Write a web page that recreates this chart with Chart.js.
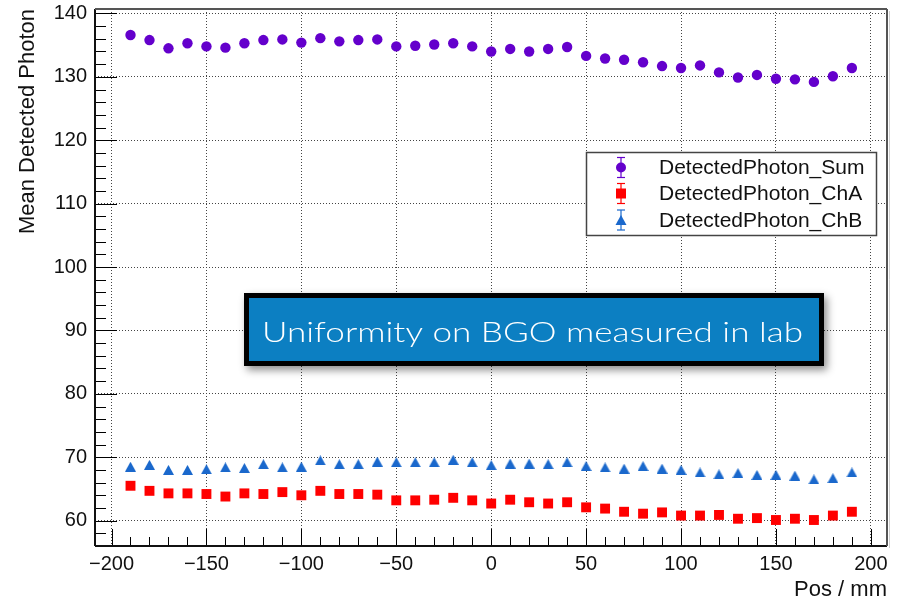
<!DOCTYPE html>
<html><head><meta charset="utf-8">
<script src="https://cdn.jsdelivr.net/npm/chart.js@4.4.1/dist/chart.umd.min.js"></script>
<style>html,body{margin:0;padding:0;background:#fff;}canvas{display:block;}</style>
</head><body>
<canvas id="c" width="901" height="603"></canvas>
<script>
const positions = [-190,-180,-170,-160,-150,-140,-130,-120,-110,-100,-90,-80,-70,-60,-50,-40,-30,-20,-10,0,10,20,30,40,50,60,70,80,90,100,110,120,130,140,150,160,170,180,190];
const sumValues = [136.6,135.8,134.5,135.3,134.8,134.6,135.3,135.8,135.9,135.4,136.1,135.6,135.8,135.9,134.8,134.9,135.1,135.3,134.8,134.0,134.4,134.0,134.4,134.7,133.3,132.9,132.7,132.3,131.7,131.4,131.8,130.7,129.9,130.3,129.7,129.6,129.2,130.1,131.4];
const chAValues = [65.5,64.7,64.3,64.3,64.2,63.8,64.3,64.2,64.5,64.0,64.7,64.2,64.2,64.1,63.2,63.2,63.3,63.6,63.2,62.7,63.3,62.9,62.7,62.9,62.1,61.9,61.4,61.1,61.3,60.8,60.8,60.9,60.3,60.4,60.1,60.3,60.1,60.8,61.4];
const chBValues = [68.5,68.8,68.0,68.0,68.1,68.4,68.3,68.9,68.4,68.5,69.5,68.9,68.9,69.3,69.2,69.2,69.2,69.6,69.2,68.75,69.0,69.0,68.9,69.2,68.6,68.4,68.2,68.6,68.2,68.0,67.6,67.3,67.5,67.2,67.2,67.1,66.5,66.7,67.6];
const xTickValues = [-200,-150,-100,-50,0,50,100,150,200];
const yTickValues = [60,70,80,90,100,110,120,130,140];
const seriesLabels = ['DetectedPhoton_Sum','DetectedPhoton_ChA','DetectedPhoton_ChB'];
const seriesColors = ['#6400cc','#ff0000','#1a68cc'];
const annotationText = 'Uniformity on BGO measured in lab';
const xTitle = 'Pos / mm';
const yTitle = 'Mean Detected Photon';

const FONT = "'Liberation Sans', Arial, Helvetica, sans-serif";

function triangleMarker(w, h, color) {
  const c = document.createElement('canvas');
  c.width = w; c.height = h;
  const g = c.getContext('2d');
  g.fillStyle = color;
  g.beginPath(); g.moveTo(w / 2, 0); g.lineTo(w, h); g.lineTo(0, h); g.closePath(); g.fill();
  return c;
}
const triImg = triangleMarker(11, 10, seriesColors[2]);

function pts(vals) { return positions.map((p, i) => ({x: p, y: vals[i]})); }

function line(ctx, x1, y1, x2, y2) { ctx.beginPath(); ctx.moveTo(x1, y1); ctx.lineTo(x2, y2); ctx.stroke(); }

function drawMarker(ctx, i, cx, cy) {
  ctx.fillStyle = seriesColors[i];
  if (i === 0) { ctx.beginPath(); ctx.arc(cx, cy, 5, 0, Math.PI * 2); ctx.fill(); }
  else if (i === 1) { ctx.fillRect(cx - 5, cy - 5, 10, 10); }
  else { ctx.beginPath(); ctx.moveTo(cx, cy - 5); ctx.lineTo(cx + 5.5, cy + 5); ctx.lineTo(cx - 5.5, cy + 5); ctx.closePath(); ctx.fill(); }
}

function noPad(s) { s.paddingTop = 0; s.paddingBottom = 0; s.paddingLeft = 0; s.paddingRight = 0; }

const decor = {
  id: 'decor',
  afterDatasetsDraw(chart) {
    const {ctx, chartArea: a, scales: {x, y}} = chart;
    ctx.save();
    // inner ticks
    ctx.strokeStyle = '#000'; ctx.lineWidth = 1;
    for (let v = -200; v <= 200; v += 10) {
      const px = Math.round(x.getPixelForValue(v)) + 0.5;
      const len = (v % 50 === 0) ? 17 : 9;
      line(ctx, px, a.bottom, px, a.bottom - len);
    }
    for (let v = 56; v <= 140; v += 2) {
      const py = Math.round(y.getPixelForValue(v)) + 0.5;
      const len = (v % 10 === 0) ? 22 : 11;
      line(ctx, a.left, py, a.left + len, py);
    }
    // frame
    ctx.strokeStyle = '#cfcfcf'; ctx.lineWidth = 1;
    line(ctx, a.right + 2.5, a.top + 2, a.right + 2.5, a.bottom + 2);
    ctx.strokeStyle = '#111'; ctx.lineWidth = 2;
    line(ctx, a.left, a.bottom, a.right, a.bottom);
    line(ctx, a.left, a.top, a.left, a.bottom);
    ctx.strokeStyle = '#555';
    line(ctx, a.left, a.top, a.right, a.top);
    line(ctx, a.right, a.top, a.right, a.bottom);

    // legend
    const lx = 586, ly = 152, lw = 290, lh = 83;
    ctx.fillStyle = '#fff'; ctx.fillRect(lx, ly, lw, lh);
    ctx.strokeStyle = '#444'; ctx.lineWidth = 1.5; ctx.strokeRect(lx + 0.5, ly + 0.5, lw, lh);
    const rows = [167.5, 193.5, 220];
    ctx.font = '21px ' + FONT; ctx.textBaseline = 'middle'; ctx.textAlign = 'left';
    for (let i = 0; i < 3; i++) {
      const cx = 621, cy = rows[i];
      ctx.strokeStyle = seriesColors[i]; ctx.lineWidth = 1.2;
      line(ctx, cx, cy - 10, cx, cy + 10);
      line(ctx, cx - 4, cy - 10, cx + 4, cy - 10);
      line(ctx, cx - 4, cy + 10, cx + 4, cy + 10);
      drawMarker(ctx, i, cx, cy);
      ctx.fillStyle = '#111';
      ctx.fillText(chart.data.datasets[i].label, 659, cy + 1);
    }

    // annotation box
    const bx = 244, by = 293, bw = 580, bh = 73;
    ctx.save();
    ctx.shadowColor = 'rgba(0,0,0,0.45)'; ctx.shadowBlur = 8; ctx.shadowOffsetX = 3; ctx.shadowOffsetY = 4;
    ctx.fillStyle = '#000'; ctx.fillRect(bx, by, bw, bh);
    ctx.restore();
    ctx.fillStyle = '#0c7fc2'; ctx.fillRect(bx + 5, by + 5, bw - 10, bh - 10);
    ctx.font = '300 28px Lato, "Open Sans", sans-serif';
    ctx.textBaseline = 'alphabetic'; ctx.textAlign = 'left';
    const tw = ctx.measureText(annotationText).width;
    const targetW = 541;
    ctx.save();
    ctx.translate(262, 342);
    ctx.scale(targetW / tw, 1);
    ctx.fillStyle = '#fff';
    ctx.fillText(annotationText, 0, 0);
    ctx.restore();

    ctx.restore();
  }
};

new Chart(document.getElementById('c'), {
  type: 'scatter',
  data: {
    datasets: [
      {label: seriesLabels[0], data: pts(sumValues), pointStyle: 'circle', pointRadius: 5.2, pointBorderWidth: 0, backgroundColor: seriesColors[0], borderColor: seriesColors[0], showLine: false},
      {label: seriesLabels[1], data: pts(chAValues), pointStyle: 'rect', pointRadius: 7, pointBorderWidth: 0, backgroundColor: seriesColors[1], borderColor: seriesColors[1], showLine: false},
      {label: seriesLabels[2], data: pts(chBValues), pointStyle: triImg, pointRadius: 6, pointBorderWidth: 0, backgroundColor: seriesColors[2], borderColor: seriesColors[2], showLine: false}
    ]
  },
  options: {
    responsive: false,
    animation: false,
    devicePixelRatio: 1,
    layout: {padding: {left: 0, right: 14, top: 9, bottom: 0}},
    plugins: {legend: {display: false}, tooltip: {enabled: false}},
    scales: {
      x: {
        type: 'linear', min: -208.7, max: 208.5,
        afterBuildTicks: s => { s.ticks = xTickValues.map(v => ({value: v})); },
        afterFit: s => { s.height = 57; noPad(s); },
        grid: {color: '#444', lineWidth: 1, drawTicks: false},
        border: {display: false, dash: [1, 2]},
        ticks: {font: {family: FONT, size: 20}, color: '#111', padding: 6, maxRotation: 0,
          callback: v => (v < 0 ? '\u2212' + Math.abs(v) : String(v))},
        title: {display: true, text: xTitle, align: 'end', font: {family: FONT, size: 22}, color: '#111', padding: {top: 0, bottom: 0}}
      },
      y: {
        type: 'linear', min: 56.0, max: 140.7,
        afterBuildTicks: s => { s.ticks = yTickValues.map(v => ({value: v})); },
        afterFit: s => { s.width = 95; noPad(s); },
        grid: {color: '#444', lineWidth: 1, drawTicks: false},
        border: {display: false, dash: [1, 2]},
        ticks: {font: {family: FONT, size: 20}, color: '#111', padding: 8},
        title: {display: true, text: yTitle, align: 'end', font: {family: FONT, size: 22}, color: '#111', padding: {top: 15, bottom: 0}}
      }
    }
  },
  plugins: [decor]
});
</script>
</body></html>
